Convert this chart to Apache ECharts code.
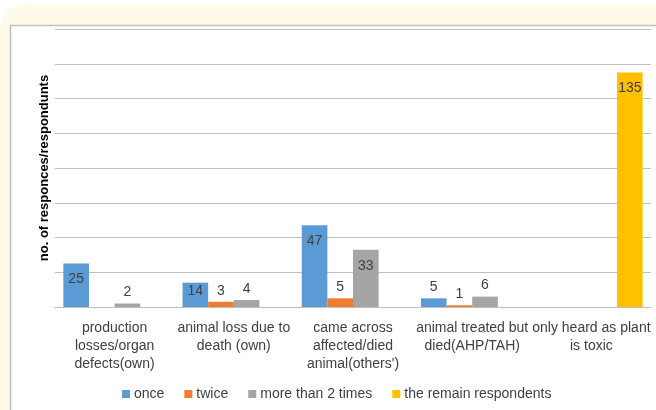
<!DOCTYPE html>
<html>
<head>
<meta charset="utf-8">
<script src="https://cdn.jsdelivr.net/npm/echarts@6/dist/echarts.min.js"></script>
<style>
  html, body { margin: 0; padding: 0; background: #fff; }
  #chart { width: 656px; height: 410px; }
</style>
</head>
<body>
<div id="chart"></div>
<script>
// data ============================================================================================
var categories = [
    "production\nlosses/organ\ndefects(own)",
    "animal loss due to\ndeath (own)",
    "came across\naffected/died\nanimal(others')",
    "animal treated but\ndied(AHP/TAH)",
    "only heard as plant\nis toxic"
];
var once = [25, 14, 47, 5, null];
var twice = [null, 3, 5, 1, null];
var moreThan2 = [2, 4, 33, 6, null];
var remain = [null, null, null, null, 135];
var seriesNames = ["once", "twice", "more than 2 times", "the remain respondents"];
var colors = ['#5b9bd5', '#ed7d31', '#a5a5a5', '#ffc000'];

var FONT = '"Liberation Sans", Arial, sans-serif';

// big bars get the label inside the top, short ones above
function withLabels(arr) {
    return arr.map(function (v) {
        if (v == null) return null;
        var inside = v > 10;
        return {
            value: v,
            label: {
                position: inside ? 'insideTop' : 'top',
                distance: inside ? (v >= 20 ? 9 : 1) : 4
            }
        };
    });
}

function makeSeries(name, arr, color) {
    return {
        name: name,
        type: 'bar',
        barGap: '0%',
        barCategoryGap: '14%',
        itemStyle: { color: color },
        label: {
            show: true,
            color: '#404040',
            fontFamily: FONT,
            fontSize: 14
        },
        data: withLabels(arr)
    };
}

var myChart = echarts.init(document.getElementById("chart"));
myChart.setOption({
    animation: false,
    graphic: [
        { type: 'rect', z: -10, shape: { x: 0, y: 4, width: 700, height: 460, r: 26 },
          style: { fill: '#fffbe8' } },
        { type: 'rect', z: -9, shape: { x: 10.5, y: 25.5, width: 700, height: 460 },
          style: { fill: '#ffffff', stroke: '#c0c0c0', lineWidth: 1.5 } }
    ],
    grid: { left: 55, right: 5, top: 29, bottom: 103, containLabel: false },
    legend: {
        data: seriesNames,
        left: 117,
        top: 382,
        itemWidth: 8,
        itemHeight: 8,
        itemGap: 20,
        icon: 'rect',
        textStyle: { color: '#404040', fontFamily: FONT, fontSize: 14, padding: [0, 0, 0, -1] }
    },
    xAxis: {
        type: 'category',
        data: categories,
        axisLine: { lineStyle: { color: '#bfbfbf', width: 1 } },
        axisTick: { show: false },
        axisLabel: {
            interval: 0,
            margin: 12,
            color: '#404040',
            fontFamily: FONT,
            fontSize: 14,
            lineHeight: 18
        }
    },
    yAxis: {
        type: 'value',
        min: 0,
        max: 160,
        interval: 20,
        name: 'no. of responces/respondunts',
        nameLocation: 'middle',
        nameGap: 4,
        nameTextStyle: { color: '#000', fontWeight: 'bold', fontFamily: FONT, fontSize: 13 },
        axisLine: { show: false },
        axisTick: { show: false },
        axisLabel: { show: false },
        splitLine: { lineStyle: { color: '#bfbfbf', width: 1 } }
    },
    series: [
        makeSeries(seriesNames[0], once, colors[0]),
        makeSeries(seriesNames[1], twice, colors[1]),
        makeSeries(seriesNames[2], moreThan2, colors[2]),
        makeSeries(seriesNames[3], remain, colors[3])
    ]
});
</script>
</body>
</html>
